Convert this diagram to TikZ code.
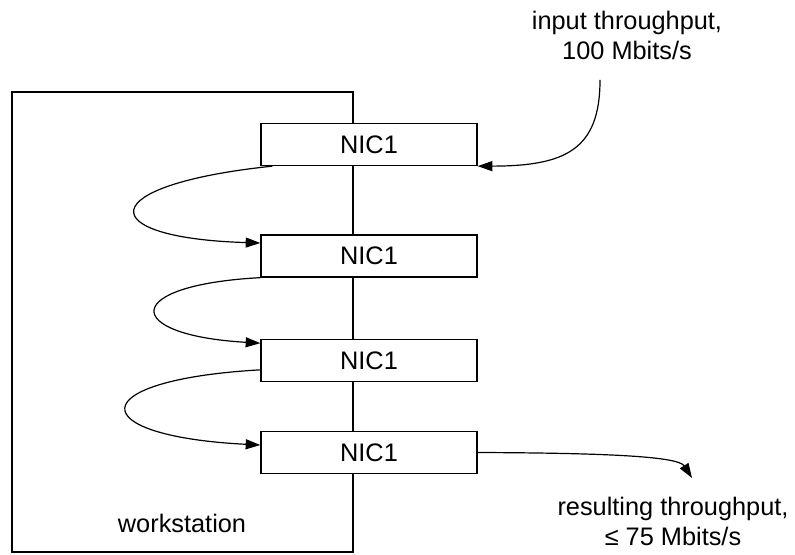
\documentclass[tikz,border=0pt]{standalone}
\usepackage{fontspec}
\setmainfont{Liberation Sans}
\usetikzlibrary{arrows.meta}
\begin{document}
\begin{tikzpicture}[x=0.75pt,y=-0.75pt,
  every node/.style={font=\fontsize{19pt}{22.5pt}\selectfont},
  nic/.style={draw, line width=1pt, fill=white, minimum width=162pt, minimum height=31.5pt, inner sep=0pt},
  wire/.style={line width=1pt},
  flow/.style={line width=0.9pt, -{Triangle[length=11pt,width=7.5pt]}},
  lbl/.style={align=center, inner sep=0pt}]
\useasboundingbox (0,0) rectangle (795,555);

% workstation outline; its right edge is the bus through the cards
\draw[wire] (12,92) rectangle (353,552);
\node[inner sep=0pt] (ws) at (182,523) {workstation};

% network cards
\node[nic] (N1) at (369,144.5) {NIC1};
\node[nic] (N2) at (369,256) {NIC1};
\node[nic] (N3) at (369,360.5) {NIC1};
\node[nic] (N4) at (369,452.5) {NIC1};

% labels
\node[lbl] (in) at (627,35) {input throughput,\\100 Mbits/s};
\node[lbl] (out) at (673,521) {resulting throughput,\\≤ 75 Mbits/s};

\coordinate (instart) at (600,80);
\coordinate (outend) at (692,478);

% incoming traffic
\draw[flow] (instart) .. controls (600,150) and (565,166) .. (N1.south east);

% traffic handed from card to card
\draw[flow] ([xshift=9pt]N1.south west) .. controls (92,185) and (92,238) .. ([yshift=9.75pt]N2.west);
\draw[flow] (N2.south west) .. controls (121,285) and (121,335) .. ([yshift=13pt]N3.west);
\draw[flow] ([yshift=-7pt]N3.west) .. controls (82,380) and (82,436) .. ([yshift=5.6pt]N4.west);

% outgoing traffic
\draw[flow] (N4.east) .. controls (600,453) and (678,456) .. (outend);
\end{tikzpicture}
\end{document}
